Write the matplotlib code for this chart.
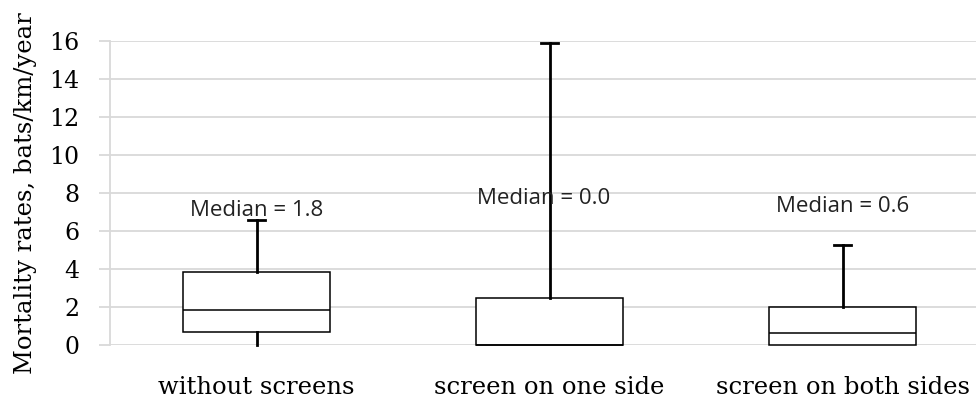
import matplotlib
matplotlib.use("Agg")
import matplotlib.pyplot as plt

# five-number summaries per road section type
categories = ["without screens", "screen on one side", "screen on both sides"]
whis_low = [0.0, 0.0, 0.0]
q1 = [0.68, 0.0, 0.0]
medians = [1.84, 0.0, 0.63]
q3 = [3.84, 2.47, 2.0]
whis_high = [6.58, 15.9, 5.26]
median_labels = ["Median = 1.8", "Median = 0.0", "Median = 0.6"]
label_y = [7.1, 7.7, 7.3]
label_dx = [0.0, -0.02, 0.0]
yticks = [0, 2, 4, 6, 8, 10, 12, 14, 16]

stats = []
for i, name in enumerate(categories):
    stats.append({"label": name, "whislo": whis_low[i], "q1": q1[i],
                  "med": medians[i], "q3": q3[i], "whishi": whis_high[i]})

fig = plt.figure(figsize=(9.76, 3.99), dpi=100)
ax = fig.add_axes([110 / 976, 54 / 399, 879 / 976, 304 / 399])

res = ax.bxp(stats, positions=range(len(categories)), widths=0.5,
             showfliers=False, patch_artist=True,
             boxprops=dict(facecolor="white", edgecolor="black", linewidth=1.1),
             medianprops=dict(color="black", linewidth=1.1),
             whiskerprops=dict(color="black", linewidth=2.0),
             capprops=dict(color="black", linewidth=2.0),
             capwidths=0.06, zorder=3)
# only the upper whisker has a cap
for cap in res["caps"][0::2]:
    cap.set_visible(False)
for artist in res["whiskers"] + res["caps"] + res["boxes"] + res["medians"]:
    artist.set_clip_on(False)

for i, txt in enumerate(median_labels):
    ax.text(i + label_dx[i], label_y[i], txt, ha="center", va="center",
            fontsize=16, family="Open Sans", color="#222222", zorder=5)

ax.set_xlim(-0.5, 2.5)
ax.set_ylim(0, 16)
ax.set_yticks(yticks)
ax.set_xticks(range(len(categories)))
ax.set_xticklabels(categories)
ax.yaxis.grid(True, color="#d9d9d9", linewidth=1.3, zorder=0)
ax.set_axisbelow(True)

for side in ["top", "right", "bottom"]:
    ax.spines[side].set_visible(False)
ax.spines["left"].set_color("#d9d9d9")
ax.spines["left"].set_linewidth(1.3)
ax.tick_params(axis="y", length=8, width=1.3, color="#d9d9d9", pad=14,
               labelsize=17)
ax.tick_params(axis="x", length=0, pad=22, labelsize=17.5)
for lbl in ax.get_xticklabels() + ax.get_yticklabels():
    lbl.set_family("DejaVu Serif")

ax.set_ylabel("Mortality rates, bats/km/year", family="DejaVu Serif",
              fontsize=17.5, labelpad=9)

fig.savefig("out.png", dpi=100)
